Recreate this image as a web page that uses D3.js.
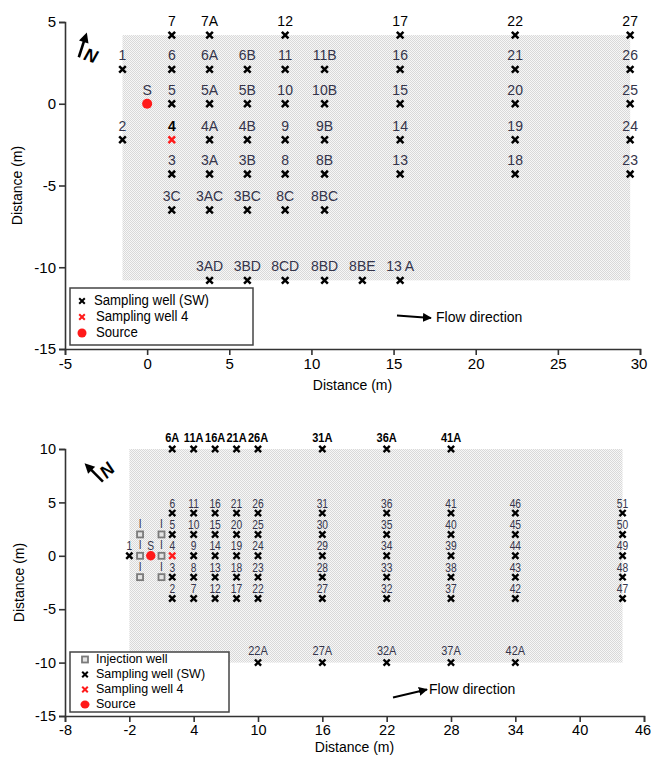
<!DOCTYPE html>
<html>
<head>
<meta charset="utf-8">
<script src="https://cdn.jsdelivr.net/npm/d3@7"></script>
<style>
  body { margin: 0; background: #fff; }
  svg { display: block; font-family: Arial, "Liberation Sans", Helvetica, sans-serif; }
</style>
</head>
<body>
<svg id="chart" width="651" height="758"></svg>
<script>
// ---------- Upper layout: sampling wells around the source ----------
const upperXTicks = [-5, 0, 5, 10, 15, 20, 25, 30];
const upperYTicks = [5, 0, -5, -10, -15];
const upperZone = { x0: -1.5, x1: 29.4, yTop: 4.2, yBottom: -10.8 };
const upperWells = [
  { id: "7", x: 1.5, y: 4.2, bold: true }, { id: "7A", x: 3.8, y: 4.2, bold: true },
  { id: "12", x: 8.4, y: 4.2, bold: true }, { id: "17", x: 15.4, y: 4.2, bold: true },
  { id: "22", x: 22.4, y: 4.2, bold: true }, { id: "27", x: 29.4, y: 4.2, bold: true },
  { id: "1", x: -1.5, y: 2.1 }, { id: "6", x: 1.5, y: 2.1 }, { id: "6A", x: 3.8, y: 2.1 },
  { id: "6B", x: 6.1, y: 2.1 }, { id: "11", x: 8.4, y: 2.1 }, { id: "11B", x: 10.8, y: 2.1 },
  { id: "16", x: 15.4, y: 2.1 }, { id: "21", x: 22.4, y: 2.1 }, { id: "26", x: 29.4, y: 2.1 },
  { id: "5", x: 1.5, y: 0 }, { id: "5A", x: 3.8, y: 0 }, { id: "5B", x: 6.1, y: 0 },
  { id: "10", x: 8.4, y: 0 }, { id: "10B", x: 10.8, y: 0 }, { id: "15", x: 15.4, y: 0 },
  { id: "20", x: 22.4, y: 0 }, { id: "25", x: 29.4, y: 0 },
  { id: "2", x: -1.5, y: -2.2 }, { id: "4A", x: 3.8, y: -2.2 }, { id: "4B", x: 6.1, y: -2.2 },
  { id: "9", x: 8.4, y: -2.2 }, { id: "9B", x: 10.8, y: -2.2 }, { id: "14", x: 15.4, y: -2.2 },
  { id: "19", x: 22.4, y: -2.2 }, { id: "24", x: 29.4, y: -2.2 },
  { id: "3", x: 1.5, y: -4.3 }, { id: "3A", x: 3.8, y: -4.3 }, { id: "3B", x: 6.1, y: -4.3 },
  { id: "8", x: 8.4, y: -4.3 }, { id: "8B", x: 10.8, y: -4.3 }, { id: "13", x: 15.4, y: -4.3 },
  { id: "18", x: 22.4, y: -4.3 }, { id: "23", x: 29.4, y: -4.3 },
  { id: "3C", x: 1.5, y: -6.5 }, { id: "3AC", x: 3.8, y: -6.5 }, { id: "3BC", x: 6.1, y: -6.5 },
  { id: "8C", x: 8.4, y: -6.5 }, { id: "8BC", x: 10.8, y: -6.5 },
  { id: "3AD", x: 3.8, y: -10.8 }, { id: "3BD", x: 6.1, y: -10.8 }, { id: "8CD", x: 8.4, y: -10.8 },
  { id: "8BD", x: 10.8, y: -10.8 }, { id: "8BE", x: 13.1, y: -10.8 }, { id: "13 A", x: 15.4, y: -10.8 }
];
const upperWell4 = { id: "4", x: 1.5, y: -2.2 };
const upperSource = { id: "S", x: 0, y: 0 };

// ---------- Lower layout: injection wells and extended sampling grid ----------
const lowerXTicks = [-8, -2, 4, 10, 16, 22, 28, 34, 40, 46];
const lowerYTicks = [10, 5, 0, -5, -10, -15];
const lowerZone = { x0: -2, x1: 44, yTop: 10, yBottom: -10 };
const lowerColumnsX = [2, 4, 6, 8, 10, 16, 22, 28, 34, 44];
const lowerRowsY = [4, 2, 0, -2, -4];
const lowerGridIds = [
  ["6", "5", "4", "3", "2"], ["11", "10", "9", "8", "7"], ["16", "15", "14", "13", "12"],
  ["21", "20", "19", "18", "17"], ["26", "25", "24", "23", "22"], ["31", "30", "29", "28", "27"],
  ["36", "35", "34", "33", "32"], ["41", "40", "39", "38", "37"], ["46", "45", "44", "43", "42"],
  ["51", "50", "49", "48", "47"]
];
const lowerNorthIds = ["6A", "11A", "16A", "21A", "26A", "31A", "36A", "41A"];
const lowerNorthX = [2, 4, 6, 8, 10, 16, 22, 28];
const lowerNorthY = 10;
const lowerSouthIds = ["22A", "27A", "32A", "37A", "42A"];
const lowerSouthX = [10, 16, 22, 28, 34];
const lowerSouthY = -10;
const lowerWell1 = { id: "1", x: -2, y: 0 };
const lowerInjection = [
  { x: -1, y: 2 }, { x: 1, y: 2 }, { x: -1, y: 0 }, { x: 1, y: 0 }, { x: -1, y: -2 }, { x: 1, y: -2 }
];
const lowerWell4 = { id: "4", x: 2, y: 0 };
const lowerSource = { id: "S", x: 0, y: 0 };

const upperLegend = ["Sampling well (SW)", "Sampling well 4", "Source"];
const lowerLegend = ["Injection well", "Sampling well (SW)", "Sampling well 4", "Source"];
const axisTitle = "Distance (m)";
const flowText = "Flow direction";

// ---------- Drawing ----------
const svg = d3.select("#chart");
const RED = "#ff1a1a";
const LABEL = "#34344a";

// stippled grey fill for the monitored zone
const defs = svg.append("defs");
const pat = defs.append("pattern").attr("id", "stipple")
  .attr("patternUnits", "userSpaceOnUse").attr("width", 2).attr("height", 2);
pat.append("rect").attr("width", 2).attr("height", 2).attr("fill", "#f7f7f7");
pat.append("rect").attr("x", 0).attr("y", 0).attr("width", 1).attr("height", 1).attr("fill", "#d9d9d9");
pat.append("rect").attr("x", 1).attr("y", 1).attr("width", 1).attr("height", 1).attr("fill", "#d9d9d9");

defs.append("marker").attr("id", "flowHead").attr("viewBox", "0 0 10 10")
  .attr("refX", 9).attr("refY", 5).attr("markerWidth", 5).attr("markerHeight", 5)
  .attr("orient", "auto").attr("markerUnits", "strokeWidth")
  .append("path").attr("d", "M0,0 L10,5 L0,10 Z").attr("fill", "#000");

function crossPath(s) {
  return `M${-s},${-s}L${s},${s}M${-s},${s}L${s},${-s}`;
}

function drawAxes(g, x, y, xTicks, yTicks, titleY, titleX, tickSize) {
  const ax = g.append("g").attr("transform", `translate(0,${y.range()[0]})`)
    .call(d3.axisBottom(x).tickValues(xTicks).tickSize(6).tickFormat(d3.format("d")));
  const ay = g.append("g").attr("transform", `translate(${x.range()[0]},0)`)
    .call(d3.axisLeft(y).tickValues(yTicks).tickSize(6).tickFormat(d3.format("d")));
  [ax, ay].forEach(a => {
    a.select(".domain").attr("stroke", "#333").attr("stroke-width", 1.6);
    a.selectAll(".tick line").attr("stroke", "#333").attr("stroke-width", 1.6);
    a.selectAll(".tick text").attr("font-size", tickSize).attr("fill", "#000")
      .attr("font-family", "Arial, 'Liberation Sans', sans-serif");
  });
  ax.selectAll(".tick text").text(d => d < 0 ? "-" + Math.abs(d) : d);
  ay.selectAll(".tick text").text(d => d < 0 ? "-" + Math.abs(d) : d);
  // keep the outermost x label inside the page edge
  const last = xTicks[xTicks.length - 1];
  ax.selectAll(".tick text").filter(d => d === last).attr("dx", -1.5);
  const xm = (x.range()[0] + x.range()[1]) / 2;
  g.append("text").attr("x", xm).attr("y", titleY).attr("text-anchor", "middle")
    .attr("font-size", 14).text(axisTitle);
  const ym = (y.range()[0] + y.range()[1]) / 2;
  g.append("text").attr("transform", `translate(${titleX},${ym}) rotate(-90)`)
    .attr("text-anchor", "middle").attr("font-size", 14).text(axisTitle);
}

function drawZone(g, x, y, z) {
  g.append("rect")
    .attr("x", x(z.x0)).attr("y", y(z.yTop))
    .attr("width", x(z.x1) - x(z.x0)).attr("height", y(z.yBottom) - y(z.yTop))
    .attr("fill", "url(#stipple)");
}

function drawCross(g, px, py, s, color, w) {
  g.append("path").attr("transform", `translate(${px},${py})`)
    .attr("d", crossPath(s)).attr("stroke", color).attr("stroke-width", w).attr("fill", "none");
}

function drawLabel(g, px, py, text, opts) {
  g.append("text")
    .attr("transform", `translate(${px},${py}) scale(${opts.sx || 1},1)`)
    .attr("text-anchor", "middle")
    .attr("font-size", opts.size)
    .attr("font-weight", opts.bold ? "bold" : "normal")
    .attr("fill", opts.color || LABEL)
    .text(text);
}

function drawNorth(g, cx, cy, angle) {
  const n = g.append("g").attr("transform", `translate(${cx},${cy}) rotate(${angle})`);
  n.append("path").attr("d", "M-4,11 L-4,-8").attr("stroke", "#000").attr("stroke-width", 2.6);
  n.append("path").attr("d", "M-4,-15 L-9,-5 L1,-5 Z").attr("fill", "#000");
  n.append("text").attr("x", 7).attr("y", 12).attr("text-anchor", "middle")
    .attr("font-size", 18).attr("font-style", "italic").attr("font-weight", "bold").text("N");
}

function drawFlow(g, x0, y0, x1, y1, tx, ty) {
  g.append("line").attr("x1", x0).attr("y1", y0).attr("x2", x1).attr("y2", y1)
    .attr("stroke", "#000").attr("stroke-width", 1.8).attr("marker-end", "url(#flowHead)");
  g.append("text").attr("x", tx).attr("y", ty).attr("font-size", 14)
    .attr("dominant-baseline", "middle").text(flowText);
}

// ===== Upper panel =====
{
  const g = svg.append("g");
  const x = d3.scaleLinear().domain([-5, 30]).range([65, 640]);
  const y = d3.scaleLinear().domain([-15, 5]).range([349, 22]);
  drawZone(g, x, y, upperZone);

  upperWells.forEach(w => {
    drawCross(g, x(w.x), y(w.y), 3.3, "#000", 2.5);
    drawLabel(g, x(w.x), y(w.y) - 9, w.id, { size: 14, bold: false, color: w.bold ? "#000" : LABEL });
  });
  drawCross(g, x(upperWell4.x), y(upperWell4.y), 3.3, RED, 2.5);
  drawLabel(g, x(upperWell4.x), y(upperWell4.y) - 9, upperWell4.id, { size: 14, bold: true, color: "#000" });
  g.append("circle").attr("cx", x(upperSource.x)).attr("cy", y(upperSource.y)).attr("r", 5).attr("fill", RED);
  drawLabel(g, x(upperSource.x), y(upperSource.y) - 9, upperSource.id, { size: 14, color: LABEL });

  drawAxes(g, x, y, upperXTicks, upperYTicks, 390, 22, 15);
  drawNorth(g, 86, 48, 18);
  drawFlow(g, 397, 315.5, 431, 318, 436, 318);

  // legend
  const lg = g.append("g");
  lg.append("rect").attr("x", 70).attr("y", 288).attr("width", 183).attr("height", 57)
    .attr("fill", "#fff").attr("stroke", "#444").attr("stroke-width", 1.5);
  const ly = [301, 317, 333];
  drawCross(lg, 82, ly[0], 2.8, "#000", 2);
  drawCross(lg, 82, ly[1], 2.8, RED, 2);
  lg.append("circle").attr("cx", 82).attr("cy", ly[2]).attr("r", 4.5).attr("fill", RED);
  upperLegend.forEach((t, i) => {
    lg.append("text").attr("transform", `translate(${i === 0 ? 94 : 96},${ly[i]}) scale(0.88,1)`)
      .attr("dominant-baseline", "middle").attr("font-size", 15).text(t);
  });
}

// ===== Lower panel =====
{
  const g = svg.append("g");
  const x = d3.scaleLinear().domain([-8, 46]).range([65, 644]);
  const y = d3.scaleLinear().domain([-15, 10]).range([716, 449]);
  drawZone(g, x, y, lowerZone);

  lowerColumnsX.forEach((cx, i) => {
    lowerRowsY.forEach((cy, j) => {
      const id = lowerGridIds[i][j];
      const isW4 = (cx === lowerWell4.x && cy === lowerWell4.y);
      drawCross(g, x(cx), y(cy), 3.1, isW4 ? RED : "#000", 2.4);
      drawLabel(g, x(cx), y(cy) - 5.5, id, { size: 12.5, sx: 0.82 });
    });
  });
  lowerNorthIds.forEach((id, i) => {
    drawCross(g, x(lowerNorthX[i]), y(lowerNorthY), 3.1, "#000", 2.4);
    drawLabel(g, x(lowerNorthX[i]), y(lowerNorthY) - 7.5, id, { size: 12, bold: true, color: "#000", sx: 0.92 });
  });
  lowerSouthIds.forEach((id, i) => {
    drawCross(g, x(lowerSouthX[i]), y(lowerSouthY), 3.1, "#000", 2.4);
    drawLabel(g, x(lowerSouthX[i]), y(lowerSouthY) - 8, id, { size: 12.5, sx: 0.88 });
  });
  drawCross(g, x(lowerWell1.x), y(lowerWell1.y), 3.1, "#000", 2.4);
  drawLabel(g, x(lowerWell1.x), y(lowerWell1.y) - 5.5, lowerWell1.id, { size: 12.5, sx: 0.82 });

  lowerInjection.forEach(p => {
    g.append("rect").attr("x", x(p.x) - 3).attr("y", y(p.y) - 3).attr("width", 6).attr("height", 6)
      .attr("fill", "#e4e4e4").attr("stroke", "#7a7a7a").attr("stroke-width", 1.8);
    drawLabel(g, x(p.x), y(p.y) - 6.5, "I", { size: 12.5, sx: 0.82 });
  });
  g.append("circle").attr("cx", x(lowerSource.x)).attr("cy", y(lowerSource.y)).attr("r", 4.7).attr("fill", RED);
  drawLabel(g, x(lowerSource.x), y(lowerSource.y) - 6, lowerSource.id, { size: 12.5, sx: 0.82 });

  drawAxes(g, x, y, lowerXTicks, lowerYTicks, 752, 24, 14.5);
  drawNorth(g, 98, 471, -45);
  drawFlow(g, 393, 697.5, 427, 689.5, 429, 690);

  // legend
  const lg = g.append("g");
  lg.append("rect").attr("x", 70).attr("y", 652).attr("width", 159).attr("height", 60)
    .attr("fill", "#fff").attr("stroke", "#444").attr("stroke-width", 1.5);
  const ly = [659.5, 674.5, 689.5, 704.5];
  lg.append("rect").attr("x", 82).attr("y", ly[0] - 3).attr("width", 6).attr("height", 6)
    .attr("fill", "#e4e4e4").attr("stroke", "#7a7a7a").attr("stroke-width", 1.8);
  drawCross(lg, 85, ly[1], 2.8, "#000", 2);
  drawCross(lg, 85, ly[2], 2.8, RED, 2);
  lg.append("ellipse").attr("cx", 85).attr("cy", ly[3]).attr("rx", 4.5).attr("ry", 4).attr("fill", RED);
  lowerLegend.forEach((t, i) => {
    lg.append("text").attr("transform", `translate(96,${ly[i]})`)
      .attr("dominant-baseline", "middle").attr("font-size", 12.5).text(t);
  });
}
</script>
</body>
</html>
